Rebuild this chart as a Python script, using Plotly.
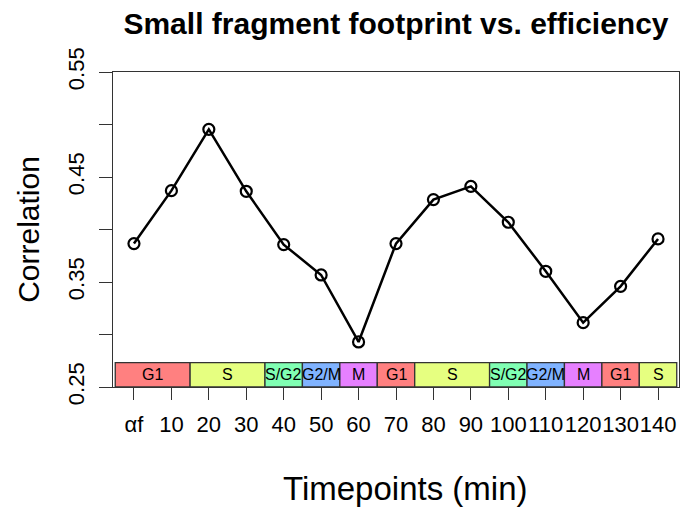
import plotly.graph_objects as go

# ---- data ----
timepoints = ["αf", "10", "20", "30", "40", "50", "60", "70", "80", "90",
              "100", "110", "120", "130", "140"]
correlation = [0.3866, 0.4370, 0.4954, 0.4364, 0.3856, 0.3567, 0.2929,
               0.3866, 0.4285, 0.4411, 0.4069, 0.3602, 0.3113, 0.3459, 0.3910]

phase_names = ["G1", "S", "S/G2", "G2/M", "M", "G1", "S", "S/G2", "G2/M", "M", "G1", "S"]
phase_start = [-0.5, 1.5, 3.5, 4.5, 5.5, 6.5, 7.5, 9.5, 10.5, 11.5, 12.5, 13.5]
phase_end = [1.5, 3.5, 4.5, 5.5, 6.5, 7.5, 9.5, 10.5, 11.5, 12.5, 13.5, 14.5]
phase_colors = {"G1": "#FF8080", "S": "#E6FF80", "S/G2": "#80FFB3",
                "G2/M": "#80B3FF", "M": "#E680FF"}

y_ticks = [0.25, 0.30, 0.35, 0.40, 0.45, 0.50, 0.55]
y_ticklabels = ["0.25", "", "0.35", "", "0.45", "", "0.55"]
y_range = [0.25, 0.55]
band_top = 0.2732

FONT = "Liberation Sans, Arial, Helvetica, sans-serif"
x_idx = list(range(len(timepoints)))

fig = go.Figure()

shapes = []
annotations = []
for name, s, e in zip(phase_names, phase_start, phase_end):
    shapes.append(dict(type="rect", xref="x", yref="y", x0=s, x1=e,
                       y0=y_range[0], y1=band_top,
                       fillcolor=phase_colors[name],
                       line=dict(color="#333333", width=1.3), layer="below"))
    annotations.append(dict(x=(s + e) / 2, y=(y_range[0] + band_top) / 2,
                            xref="x", yref="y", text=name, showarrow=False,
                            font=dict(family=FONT, size=16, color="#000000"),
                            xanchor="center", yanchor="middle"))

# x-axis title (placed as annotation for exact positioning)
annotations.append(dict(text="Timepoints (min)", xref="paper", yref="paper",
                        x=(405 - 113) / 566, y=-(488 - 387) / 315,
                        xanchor="center", yanchor="middle", showarrow=False,
                        font=dict(family=FONT, size=33, color="#000000")))

fig.add_trace(go.Scatter(
    x=x_idx, y=correlation, mode="lines+markers",
    line=dict(color="#000000", width=2.5),
    marker=dict(symbol="circle-open", size=11, color="#000000",
                line=dict(width=2.2, color="#000000")),
    showlegend=False, cliponaxis=False))

fig.update_layout(
    width=696, height=510,
    margin=dict(l=113, r=17, t=72, b=123, autoexpand=False),
    paper_bgcolor="white", plot_bgcolor="white",
    shapes=shapes, annotations=annotations,
    title=dict(text="<b>Small fragment footprint vs. efficiency</b>",
               font=dict(family=FONT, size=30, color="#000000"),
               xref="paper", x=0.5, xanchor="center",
               yref="container", y=1 - 23 / 510, yanchor="middle"),
    font=dict(family=FONT, color="#000000"),
)

fig.update_xaxes(
    range=[-0.56, 14.56], tickvals=x_idx, ticktext=timepoints,
    showgrid=False, zeroline=False, automargin=False,
    showline=True, mirror=True, linecolor="#333333", linewidth=1.3,
    ticks="outside", ticklen=12, tickwidth=1.3, tickcolor="#333333",
    tickangle=0,
    tickfont=dict(family=FONT, size=22, color="#000000"),
    ticklabelstandoff=5,
)
fig.update_yaxes(
    range=y_range, tickvals=y_ticks, ticktext=y_ticklabels,
    showgrid=False, zeroline=False, automargin=False,
    showline=True, mirror=True, linecolor="#333333", linewidth=1.3,
    ticks="outside", ticklen=13, tickwidth=1.3, tickcolor="#333333",
    tickangle=-90,
    tickfont=dict(family=FONT, size=22, color="#000000"),
    ticklabelstandoff=6,
    title=dict(text="Correlation", standoff=15,
               font=dict(family=FONT, size=30, color="#000000")),
)

fig.write_html("out.html", config={"displayModeBar": False},
               post_script="document.body.style.margin='0';document.body.style.padding='0';")
